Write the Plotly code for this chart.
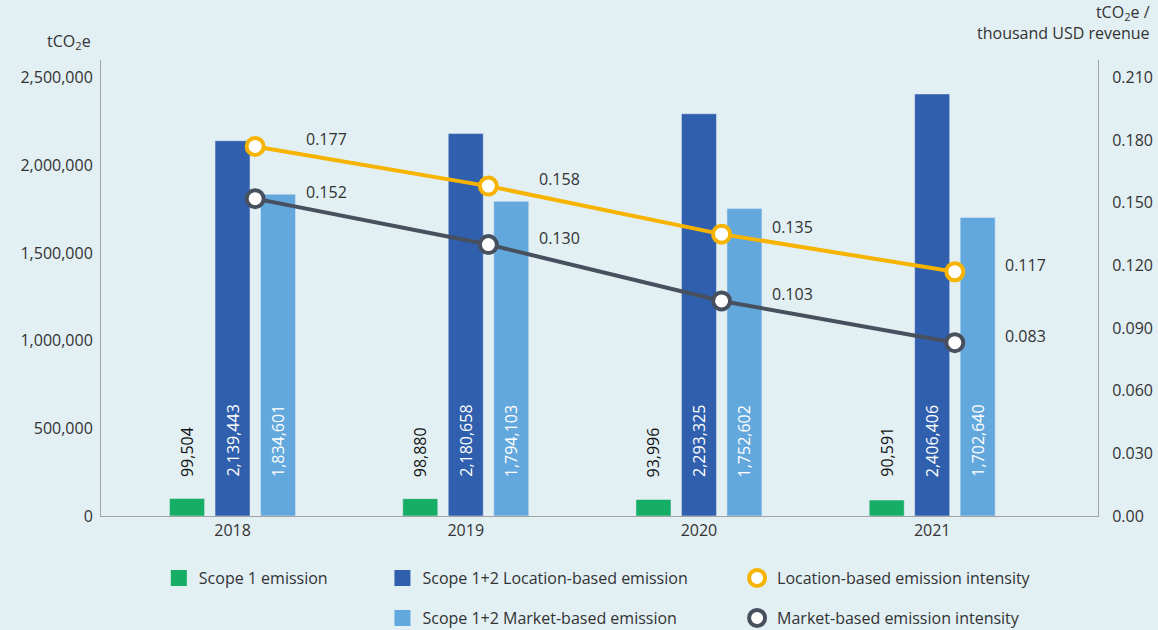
import plotly.graph_objects as go

years = ["2018", "2019", "2020", "2021"]
scope1 = [99504, 98880, 93996, 90591]
location_based = [2139443, 2180658, 2293325, 2406406]
market_based = [1834601, 1794103, 1752602, 1702640]
location_intensity = [0.177, 0.158, 0.135, 0.117]
market_intensity = [0.152, 0.130, 0.103, 0.083]

left_ticks = [0, 500000, 1000000, 1500000, 2000000, 2500000]
right_ticks = [0.0, 0.03, 0.06, 0.09, 0.12, 0.15, 0.18, 0.21]
right_ticktext = ["0.00", "0.030", "0.060", "0.090", "0.120", "0.150", "0.180", "0.210"]

GREEN = "#16ad65"
DARK_BLUE = "#2f5fad"
LIGHT_BLUE = "#63a8dc"
ORANGE = "#f6b300"
SLATE = "#47505e"
BG = "#e2eff3"
TEXT = "#333333"
AXIS = "#a3a3a3"
FONT = "Open Sans"

BARGAP = 0.415
BARGROUPGAP = 0.23
LINE_SHIFT = 0.097

xs = list(range(len(years)))
slot = (1 - BARGAP) / 3

fig = go.Figure()

bar_series = [
    ("Scope 1 emission", scope1, GREEN, "legend"),
    ("Scope 1+2 Location-based emission", location_based, DARK_BLUE, "legend2"),
    ("Scope 1+2 Market-based emission", market_based, LIGHT_BLUE, "legend3"),
]
for name, vals, color, lg in bar_series:
    fig.add_trace(go.Bar(x=xs, y=vals, name=name, marker_color=color, showlegend=False,
                         hovertemplate="%{y:,}<extra>" + name + "</extra>"))
    # legend-only stand-in so the swatch is a larger square
    fig.add_trace(go.Scatter(x=[None], y=[None], mode="markers", name=name, legend=lg,
                             marker=dict(symbol="square", size=19, color=color)))

line_x = [x + LINE_SHIFT for x in xs]
line_series = [
    ("Market-based emission intensity", market_intensity, SLATE, "legend5"),
    ("Location-based emission intensity", location_intensity, ORANGE, "legend4"),
]
for name, vals, color, lg in line_series:
    fig.add_trace(go.Scatter(x=line_x, y=vals, yaxis="y2", mode="lines", showlegend=False,
                             line=dict(color=color, width=4), hoverinfo="skip"))
for name, vals, color, lg in line_series:
    fig.add_trace(go.Scatter(x=line_x, y=vals, yaxis="y2", mode="markers", name=name, legend=lg,
                             marker=dict(symbol="circle", size=17, color="white", line=dict(color=color, width=4)),
                             hovertemplate="%{y:.3f}<extra>" + name + "</extra>"))

annotations = []
# vertical value labels near the base of each bar
for k, (name, vals, color, lg) in enumerate(bar_series):
    for i, v in enumerate(vals):
        annotations.append(dict(
            x=i + (k - 1) * slot, y=0, xref="x", yref="y", text=f"{v:,}", showarrow=False,
            textangle=-90, yanchor="bottom", yshift=37,
            font=dict(family=FONT, size=16, color="#111111" if k == 0 else "white"),
        ))
# intensity labels to the right of each marker
for name, vals, color, lg in line_series:
    for i, v in enumerate(vals):
        annotations.append(dict(
            x=line_x[i], y=v, xref="x", yref="y2", text=f"{v:.3f}", showarrow=False,
            xshift=71, yshift=7, font=dict(family=FONT, size=16, color=TEXT),
        ))
title_font = dict(family=FONT, size=16, color=TEXT)
annotations.append(dict(x=-0.008, y=1.0395, xref="paper", yref="paper", text="tCO<sub>2</sub>e",
                        showarrow=False, xanchor="right", yanchor="middle", font=title_font))
annotations.append(dict(x=1.054, y=1.082, xref="paper", yref="paper",
                        text="tCO<sub>2</sub>e /<br>thousand USD revenue", align="right",
                        showarrow=False, xanchor="right", yanchor="middle", font=title_font))

legend_style = dict(orientation="v", xanchor="left", yanchor="middle", bgcolor="rgba(0,0,0,0)",
                    font=dict(family=FONT, size=16, color=TEXT))

fig.update_layout(
    width=1158, height=630,
    margin=dict(l=101, r=60, t=60, b=114, autoexpand=False),
    paper_bgcolor=BG, plot_bgcolor=BG,
    barmode="group", bargap=BARGAP, bargroupgap=BARGROUPGAP,
    font=dict(family=FONT, size=16, color=TEXT),
    showlegend=True,
    legend=dict(x=0.058, y=-0.136, **legend_style),
    legend2=dict(x=0.2823, y=-0.136, **legend_style),
    legend3=dict(x=0.2823, y=-0.2237, **legend_style),
    legend4=dict(x=0.638, y=-0.136, **legend_style),
    legend5=dict(x=0.638, y=-0.2237, **legend_style),
    annotations=annotations,
    xaxis=dict(tickvals=xs, ticktext=years, range=[-0.564, 3.711], showgrid=False, zeroline=False,
               showline=True, linecolor=AXIS, linewidth=1, ticks="", tickfont=dict(size=16, color=TEXT)),
    yaxis=dict(range=[0, 2600000], tickvals=left_ticks, tickformat=",", showgrid=False, zeroline=False,
               showline=True, linecolor=AXIS, linewidth=1, ticks="", ticklabelstandoff=4,
               tickfont=dict(size=16, color=TEXT)),
    yaxis2=dict(range=[0, 0.2184], tickvals=right_ticks, ticktext=right_ticktext, overlaying="y",
                side="right", showgrid=False, zeroline=False, showline=True, linecolor=AXIS, linewidth=1,
                ticks="", ticklabelstandoff=10, tickfont=dict(size=16, color=TEXT)),
)

fig.write_html("out.html", config={"displayModeBar": False},
               post_script="document.body.style.margin='0';")
